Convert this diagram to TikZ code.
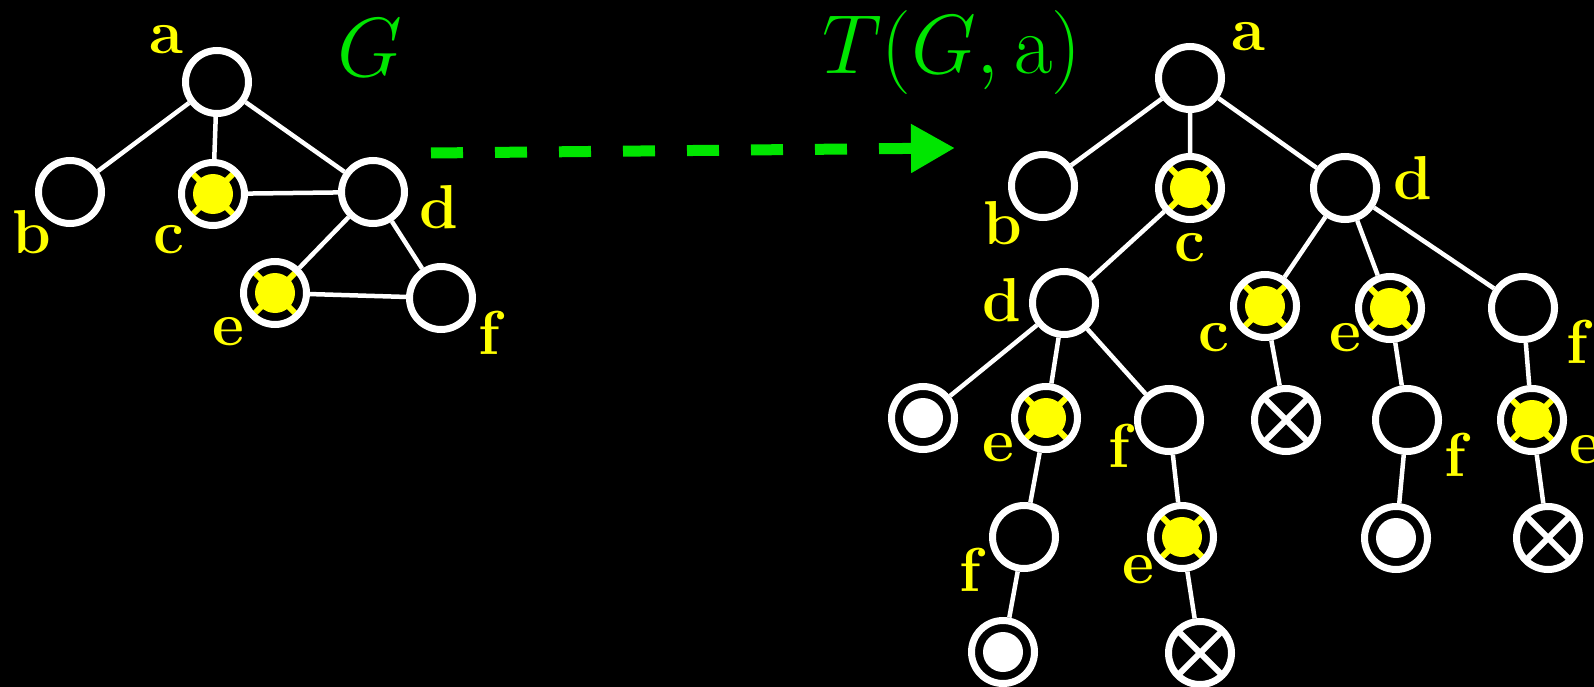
\RequirePackage{fix-cm}
\documentclass[tikz,border=0pt]{standalone}
\usetikzlibrary{arrows.meta}
\definecolor{lblyellow}{RGB}{255,255,0}
\definecolor{titlegreen}{RGB}{0,230,0}
\tikzset{
  x=1pt, y=-1pt,
  vtx/.style={circle, draw=white, line width=7pt, fill=black, minimum size=63pt, inner sep=0pt},
  marked/.style={vtx, path picture={
      \draw[lblyellow, line width=6pt, shift={(path picture bounding box.center)}]
        (-25pt,-25pt) -- (25pt,25pt) (-25pt,25pt) -- (25pt,-25pt);
      \fill[lblyellow] (path picture bounding box.center) circle[radius=20pt];
  }},
  leaf/.style={vtx, path picture={
      \fill[white] (path picture bounding box.center) circle[radius=20pt];
  }},
  crossed/.style={vtx, path picture={
      \draw[white, line width=6pt, shift={(path picture bounding box.center)}]
        (-25pt,-25pt) -- (25pt,25pt) (-25pt,25pt) -- (25pt,-25pt);
  }},
  edge/.style={white, line width=4.5pt},
  lbl/.style={text=lblyellow, font=\fontsize{62}{62}\selectfont\bfseries, inner sep=0pt},
  ttl/.style={text=titlegreen, font=\fontsize{84}{84}\selectfont, inner sep=0pt},
}
\begin{document}
\begin{tikzpicture}
\useasboundingbox[fill=black] (0,0) rectangle (1594,687);

% the graph G
\node[vtx]    (ga) at (217,82)  {};
\node[vtx]    (gb) at (70,192)  {};
\node[marked] (gc) at (213,194) {};
\node[vtx]    (gd) at (373,192) {};
\node[marked] (ge) at (275,293) {};
\node[vtx]    (gf) at (441,298) {};
\draw[edge] (ga) -- (gb) (ga) -- (gc) (ga) -- (gd) (gc) -- (gd)
            (gd) -- (ge) (gd) -- (gf) (ge) -- (gf);
\node[lbl] (lga) at (166,40)  {a};
\node[lbl] (lgb) at (32,232)  {b};
\node[lbl] (lgc) at (169,240) {c};
\node[lbl] (lgd) at (439,207) {d};
\node[lbl] (lge) at (228,332) {e};
\node[lbl] (lgf) at (489,333) {f};
\node[ttl] (tg) at (370,48) {$G$};

% the unfolding tree T(G,a)
\node[vtx]     (ta)  at (1190,78)  {};
\node[vtx]     (tb)  at (1043,186) {};
\node[marked]  (tc)  at (1190,188) {};
\node[vtx]     (td)  at (1345,188) {};
\node[vtx]     (td2) at (1064,303) {};
\node[marked]  (tc2) at (1265,306) {};
\node[marked]  (te2) at (1390,308) {};
\node[vtx]     (tf2) at (1523,308) {};
\node[leaf]    (tl1) at (923,418)  {};
\node[marked]  (te3) at (1046,418) {};
\node[vtx]     (tf3) at (1169,420) {};
\node[crossed] (tx1) at (1286,420) {};
\node[vtx]     (tf4) at (1407,420) {};
\node[marked]  (te4) at (1532,420) {};
\node[vtx]     (tf5) at (1024,537) {};
\node[marked]  (te5) at (1182,537) {};
\node[leaf]    (tl2) at (1396,538) {};
\node[crossed] (tx2) at (1548,538) {};
\node[leaf]    (tl3) at (1003,652) {};
\node[crossed] (tx3) at (1200,653) {};
\draw[edge] (ta) -- (tb) (ta) -- (tc) (ta) -- (td)
            (tc) -- (td2)
            (td) -- (tc2) (td) -- (te2) (td) -- (tf2)
            (td2) -- (tl1) (td2) -- (te3) (td2) -- (tf3)
            (tc2) -- (tx1) (te2) -- (tf4) (tf2) -- (te4)
            (te3) -- (tf5) (tf3) -- (te5) (tf4) -- (tl2) (te4) -- (tx2)
            (tf5) -- (tl3) (te5) -- (tx3);
\node[lbl] (lta)  at (1248,37)  {a};
\node[lbl] (ltb)  at (1003,223) {b};
\node[lbl] (ltc)  at (1190,248) {c};
\node[lbl] (ltd)  at (1413,178) {d};
\node[lbl] (ltd2) at (1002,300) {d};
\node[lbl] (ltc2) at (1214,338) {c};
\node[lbl] (lte2) at (1345,338) {e};
\node[lbl] (ltf2) at (1577,342) {f};
\node[lbl] (lte3) at (998,448)  {e};
\node[lbl] (ltf3) at (1119,446) {f};
\node[lbl] (ltf4) at (1455,455) {f};
\node[lbl] (lte4) at (1585,450) {e};
\node[lbl] (ltf5) at (970,570)  {f};
\node[lbl] (lte5) at (1138,570) {e};
\node[ttl] (tt) at (952,53) {$T(G,\mathrm{a})$};

% dashed arrow from G to its tree
\coordinate (arrs) at (431,153);
\coordinate (arre) at (955,148);
\draw[titlegreen, line width=11pt, dash pattern=on 32pt off 32pt,
      -{Triangle[length=44pt, width=46pt]}] (arrs) -- (arre);
\end{tikzpicture}
\end{document}
